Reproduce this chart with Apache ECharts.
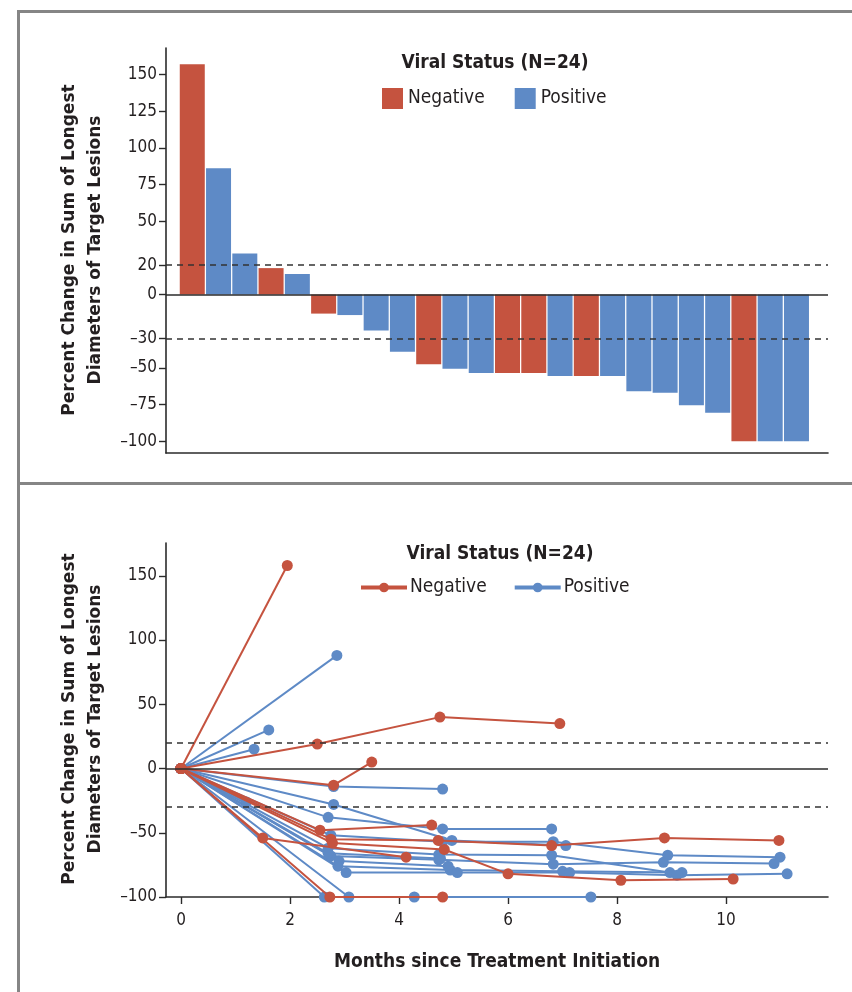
<!DOCTYPE html>
<html>
<head>
<meta charset="utf-8">
<script src="https://cdn.jsdelivr.net/npm/echarts@6/dist/echarts.min.js"></script>
<style>
  html, body { margin: 0; padding: 0; background: #fff; }
  body { width: 852px; height: 992px; position: relative; overflow: hidden; }
  #frame { position: absolute; left: 17px; top: 10px; width: 900px; height: 1000px; border: 3px solid #858585; box-sizing: border-box; }
  #sep { position: absolute; left: 17px; top: 482px; width: 900px; height: 3px; background: #858585; }
  #top { position: absolute; left: 0; top: 0; width: 852px; height: 484px; }
  #bottom { position: absolute; left: 0; top: 484px; width: 852px; height: 508px; }
</style>
</head>
<body>
<div id="frame"></div>
<div id="sep"></div>
<div id="top"></div>
<div id="bottom"></div>
<script>
// ---------- Data ----------
const wfStatus = ['Negative','Positive','Positive','Negative','Positive','Negative','Positive','Positive',
                  'Positive','Negative','Positive','Positive','Negative','Negative','Positive','Negative',
                  'Positive','Positive','Positive','Positive','Positive','Negative','Positive','Positive'];
const wfValues = [157, 86, 28, 18, 14, -13, -14, -24.5,
                  -39, -47.5, -50.5, -53.5, -53.5, -53.5, -55.5, -55.5,
                  -55.5, -66, -67, -75.5, -80.5, -100, -100, -100];
const topYTicks = [150, 125, 100, 75, 50, 20, 0, -30, -50, -75, -100];
const bottomYTicks = [150, 100, 50, 0, -50, -100];
const bottomXTicks = [0, 2, 4, 6, 8, 10];
const thresholdLines = [20, -30];

// Spider plot: [months, percent change]
const negativeCourses = [
  [[0,0],[1.95,158]],
  [[0,0],[2.5,19],[4.75,40],[6.95,35]],
  [[0,0],[2.8,-13],[3.5,5]],
  [[0,0],[1.5,-54],[4.13,-69]],
  [[0,0],[2.55,-48],[4.6,-44]],
  [[0,0],[2.75,-55],[4.72,-56],[6.8,-60],[8.87,-54],[10.97,-56]],
  [[0,0],[2.78,-58],[4.83,-63],[6.0,-82],[8.07,-87],[10.13,-86]],
  [[0,0],[2.73,-100],[4.8,-100]]
];
const positiveCourses = [
  [[0,0],[2.86,88]],
  [[0,0],[1.61,30]],
  [[0,0],[1.34,15]],
  [[0,0],[2.8,-14],[4.8,-16]],
  [[0,0],[1.2,-26]],
  [[0,0],[2.8,-28],[4.97,-56],[7.06,-60]],
  [[0,0],[2.7,-38],[4.8,-47],[6.8,-47]],
  [[0,0],[2.75,-52],[4.8,-57],[6.83,-57],[8.93,-67.5],[10.99,-69]],
  [[0,0],[2.7,-62],[4.73,-67],[6.8,-67.5],[8.97,-81]],
  [[0,0],[2.75,-68],[4.73,-71],[6.83,-74.5],[8.85,-73],[10.88,-74]],
  [[0,0],[2.88,-76],[4.94,-79],[7.0,-80],[9.19,-81]],
  [[0,0],[3.03,-81],[5.07,-81],[7.13,-81],[9.1,-83],[11.12,-82]],
  [[0,0],[2.63,-100]],
  [[0,0],[3.08,-100],[4.28,-100],[7.52,-100]],
  [[0,0],[2.7,-66],[4.76,-70]],
  [[0,0],[2.9,-72],[4.9,-76]]
];

// ---------- Style ----------
const RED = '#C5533F';
const BLUE = '#5E8AC6';
const INK = '#231F20';
const AXIS = '#2b2b2b';
const NARROW = '"Liberation Sans Narrow", "DejaVu Sans Condensed", "Roboto Condensed", "Noto Sans", sans-serif';
const WIDE = '"DejaVu Sans", Verdana, sans-serif';
const fmtMinus = v => String(v).replace('-', '\u2013');

function refMarkLine() {
  return {
    silent: true, symbol: 'none', label: { show: false }, animation: false,
    data: [
      { yAxis: 0, lineStyle: { type: 'solid', color: AXIS, width: 1.6 } },
      ...thresholdLines.map(v => ({ yAxis: v, lineStyle: { type: [6, 5], color: '#333', width: 1.6 } }))
    ]
  };
}

// ---------- Top: waterfall ----------
const topChart = echarts.init(document.getElementById('top'), null, { renderer: 'canvas' });
const negBars = [], posBars = [];
wfValues.forEach((v, i) => {
  (wfStatus[i] === 'Negative' ? negBars : posBars).push([i + 1, v]);
});
topChart.setOption({
  animation: false,
  title: {
    text: 'Viral Status (N=24)', left: 490, top: 49, textAlign: 'center',
    textStyle: { fontFamily: NARROW, fontWeight: 'bold', fontSize: 19, color: INK }
  },
  legend: {
    left: 377, top: 83, itemWidth: 21, itemHeight: 21, itemGap: 30, icon: 'rect',
    data: ['Negative', 'Positive'],
    textStyle: { fontFamily: NARROW, fontSize: 19, color: INK }
  },
  grid: { left: 166, right: 24, top: 48, bottom: 31 },
  xAxis: {
    type: 'value', min: 0, max: 25.2,
    axisLine: { show: true, onZero: false, lineStyle: { color: AXIS, width: 1.6 } },
    axisTick: { show: false }, axisLabel: { show: false }, splitLine: { show: false }
  },
  yAxis: {
    type: 'value', min: -108, max: 168,
    axisLine: { show: true, lineStyle: { color: AXIS, width: 1.6 } },
    axisTick: { show: true, length: 7, customValues: topYTicks, lineStyle: { color: AXIS, width: 1.4 } },
    axisLabel: { customValues: topYTicks, formatter: fmtMinus, margin: 9,
      fontFamily: NARROW, fontSize: 17, color: INK },
    splitLine: { show: false }
  },
  graphic: [{
    type: 'text', x: 83, y: 250, rotation: Math.PI / 2,
    style: {
      text: 'Percent Change in Sum of Longest\nDiameters of Target Lesions',
      font: 'bold 17px ' + WIDE, fill: INK, align: 'center', verticalAlign: 'middle', lineHeight: 26
    }
  }],
  series: [
    { name: 'Negative', type: 'bar', data: negBars, barWidth: 25, barGap: '-100%',
      itemStyle: { color: RED }, markLine: refMarkLine() },
    { name: 'Positive', type: 'bar', data: posBars, barWidth: 25, barGap: '-100%',
      itemStyle: { color: BLUE } }
  ]
});

// ---------- Bottom: spider plot ----------
const botChart = echarts.init(document.getElementById('bottom'), null, { renderer: 'canvas' });
function lineSeries(name, color, data, withMark) {
  const s = {
    name, type: 'line', data, symbol: 'circle', symbolSize: 11, showAllSymbol: true,
    lineStyle: { color, width: 2 }, itemStyle: { color }, z: name === 'Negative' ? 3 : 2
  };
  if (withMark) s.markLine = refMarkLine();
  return s;
}
const botSeries = [];
positiveCourses.forEach((d, i) => botSeries.push(lineSeries('Positive', BLUE, d, i === 0)));
negativeCourses.forEach(d => botSeries.push(lineSeries('Negative', RED, d, false)));

botChart.setOption({
  animation: false,
  title: {
    text: 'Viral Status (N=24)', left: 495, top: 56, textAlign: 'center',
    textStyle: { fontFamily: NARROW, fontWeight: 'bold', fontSize: 19, color: INK }
  },
  legend: {
    left: 354, top: 89, itemWidth: 46, itemHeight: 12, itemGap: 26,
    data: ['Negative', 'Positive'],
    lineStyle: { width: 4 },
    textStyle: { fontFamily: NARROW, fontSize: 19, color: INK, padding: [0, 0, 0, -2] }
  },
  grid: { left: 166, right: 24, top: 59, bottom: 95 },
  xAxis: {
    type: 'value', min: -0.275, max: 11.87,
    axisLine: { show: true, onZero: false, lineStyle: { color: AXIS, width: 1.6 } },
    axisTick: { show: true, length: 7, customValues: bottomXTicks, lineStyle: { color: AXIS, width: 1.4 } },
    axisLabel: { customValues: bottomXTicks, margin: 15, fontFamily: NARROW, fontSize: 17, color: INK },
    splitLine: { show: false }
  },
  yAxis: {
    type: 'value', min: -100, max: 175.5,
    axisLine: { show: true, onZero: false, lineStyle: { color: AXIS, width: 1.6 } },
    axisTick: { show: true, length: 7, customValues: bottomYTicks, lineStyle: { color: AXIS, width: 1.4 } },
    axisLabel: { customValues: bottomYTicks, formatter: fmtMinus, margin: 9,
      fontFamily: NARROW, fontSize: 17, color: INK },
    splitLine: { show: false }
  },
  graphic: [{
    type: 'text', x: 83, y: 235, rotation: Math.PI / 2,
    style: {
      text: 'Percent Change in Sum of Longest\nDiameters of Target Lesions',
      font: 'bold 17px ' + WIDE, fill: INK, align: 'center', verticalAlign: 'middle', lineHeight: 26
    }
  }, {
    type: 'text', x: 497, y: 478,
    style: {
      text: 'Months since Treatment Initiation',
      font: 'bold 19px ' + NARROW, fill: INK, align: 'center', verticalAlign: 'middle'
    }
  }],
  series: botSeries
});
</script>
</body>
</html>
